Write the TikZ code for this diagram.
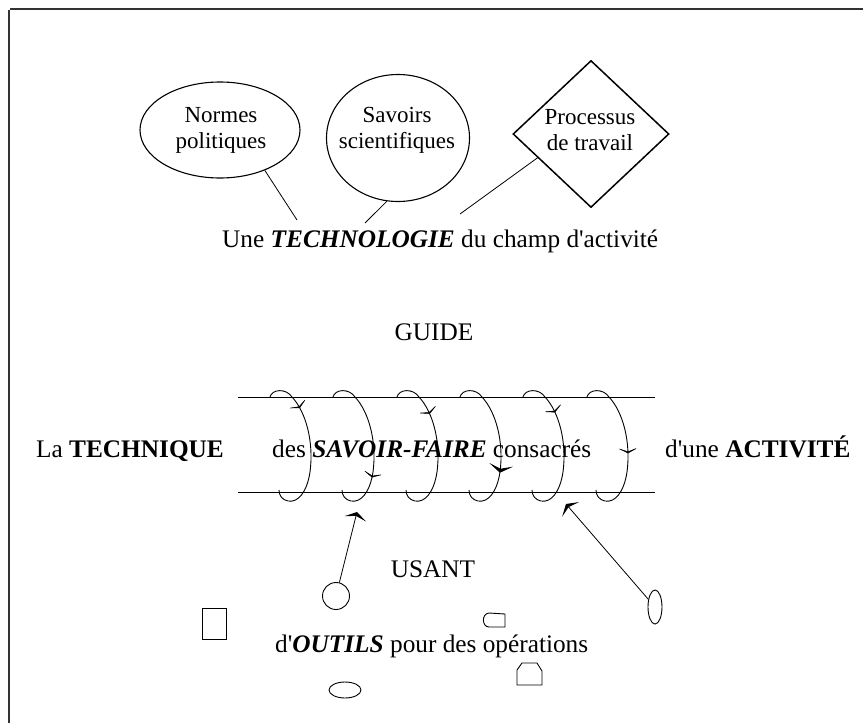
\documentclass[tikz,border=0pt]{standalone}
\usepackage{fontspec}
\setmainfont{Liberation Serif}
\usetikzlibrary{shapes.geometric,arrows.meta,decorations.markings}
\tikzset{
  coiltip/.tip={Stealth[length=6pt,width=23pt,inset=4.2pt]},
  bigtip/.tip={Stealth[length=8pt,width=24pt,inset=4pt]},
  tooltip/.tip={Stealth[length=7pt,width=22pt,inset=3pt]},
  frameline/.style={line width=1.8pt, draw=black!80},
  outline/.style={draw, line width=1.1pt, inner sep=0pt},
  shapetxt/.style={font=\fontsize{23}{26}\selectfont, align=center, inner sep=0pt},
  maintxt/.style={font=\fontsize{25.3}{30}\selectfont, inner sep=0pt},
  conn/.style={line width=0.8pt},
  coilline/.style={line width=0.9pt},
  toolshape/.style={draw, line width=0.9pt, inner sep=0pt},
}
\newcommand\drawcoil[3]{%
  \draw[coilline, shift={(#1,397)},
    postaction={decorate, decoration={markings, mark=at position #2 with {\arrow{#3}}}}]
    (0,0) .. controls (2,-8) and (16,-9) .. (22,0)
          .. controls (36,15) and (44,45) .. (40,75)
          .. controls (37,95) and (28,106) .. (18,104)
          .. controls (12,103) and (9,98) .. (9,93);}
\begin{document}
\begin{tikzpicture}[x=1pt,y=-1pt]
\fill[white] (0,0) rectangle (863,723);
\useasboundingbox (0,0) rectangle (863,723);
% frame
\draw[frameline] (10,9) -- (863,9);
\draw[frameline] (9,10) -- (9,723);
% top shapes
\node[outline, ellipse, minimum width=160pt, minimum height=96pt] (norm) at (220,130) {};
\node[shapetxt] (normt) at (221,130) {Normes\\politiques};
\node[outline, ellipse, minimum width=143pt, minimum height=127pt] (sav) at (398,138) {};
\node[shapetxt] (savt) at (397,130) {Savoirs\\scientifiques};
\node[outline, diamond, line width=1.5pt, minimum width=156pt, minimum height=147pt] (proc) at (591,134) {};
\node[shapetxt] (proct) at (590,130) {Processus\\de travail};
\node[maintxt, anchor=base west] (techno) at (222,247) {Une \textbf{\textit{TECHNOLOGIE}} du champ d\textquotesingle activité};
\coordinate (t1) at (297,220);
\coordinate (t2) at (365,223);
\coordinate (t3) at (460,214);
\draw[conn] (norm.-42) -- (t1);
\draw[conn] (sav.-100) -- (t2);
\draw[conn] (proc.-156) -- (t3);
% middle
\node[maintxt, anchor=base] (guide) at (434,340) {GUIDE};
\draw[coilline] (238,397) -- (655,397);
\draw[coilline] (238,492) -- (655,492);
\node[maintxt, anchor=base west] (tech) at (36,457) {La \textbf{TECHNIQUE}};
\node[maintxt, anchor=base west] (sf) at (272,457) {des \textbf{\textit{SAVOIR-FAIRE}} consacrés};
\node[maintxt, anchor=base west] (act) at (665,457) {d\textquotesingle une \textbf{ACTIVITÉ}};
\drawcoil{270}{0.25}{coiltip}
\drawcoil{333}{0.69}{coiltip}
\drawcoil{397}{0.29}{coiltip}
\drawcoil{460}{0.66}{bigtip}
\drawcoil{523}{0.28}{coiltip}
\drawcoil{587}{0.54}{coiltip}
% bottom
\node[maintxt, anchor=base] (usant) at (433,577) {USANT};
\node[toolshape, circle, minimum size=27pt] (circ) at (336,596) {};
\node[toolshape, ellipse, minimum width=14pt, minimum height=34pt] (ell) at (655,607) {};
\coordinate (a1) at (357,512);
\coordinate (a2) at (566,504);
\draw[conn, -tooltip] (circ.76) -- (a1);
\draw[conn, -tooltip] (ell.131) -- (a2);
\node[toolshape, minimum width=24pt, minimum height=31pt] (box) at (214,623.5) {};
\draw[line width=0.9pt] (505,614) -- (505,627) -- (489,627) .. controls (482,627) and (481,614) .. (489,613) -- cycle;
\node[maintxt, anchor=base west] (outils) at (275,652) {d\textquotesingle\textbf{\textit{OUTILS}} pour des opérations};
\draw[line width=0.9pt] (517,685) -- (542,685) -- (542,671) -- (537,663) -- (522,663) -- (517,670) -- cycle;
\node[toolshape, ellipse, minimum width=32pt, minimum height=16pt] (oval) at (345,690) {};
\end{tikzpicture}
\end{document}
